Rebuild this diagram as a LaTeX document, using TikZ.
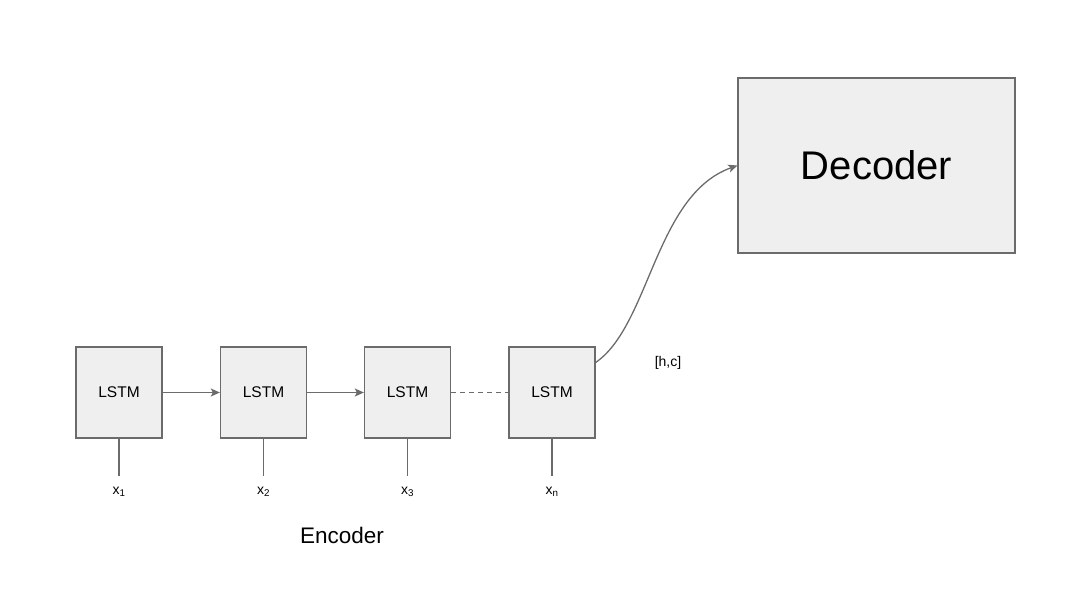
\documentclass[tikz,border=0pt]{standalone}
\usepackage{fontspec}
\setmainfont{Liberation Sans}
\usetikzlibrary{positioning, arrows.meta}
\definecolor{boxfill}{HTML}{EFEFEF}
\definecolor{boxline}{HTML}{6B6B6B}
\newcommand{\xin}[1]{x\textsubscript{#1}}

\begin{document}
\begin{tikzpicture}[
    % GLOBAL CFG
    x=1pt, y=-1pt,
    font=\fontsize{15.5}{18}\selectfont,
    >={Stealth[length=9pt,width=8pt,inset=2pt]},
    % Styles
    lstm/.style={% For encoder cells
        rectangle,
        draw=boxline,
        line width=1.3pt,
        fill=boxfill,
        minimum width=86pt,
        minimum height=91pt,
        inner sep=0pt,
    },
    decbox/.style={% For decoder box
        rectangle,
        draw=boxline,
        line width=1.3pt,
        fill=boxfill,
        minimum width=277pt,
        minimum height=175pt,
        font=\fontsize{40}{46}\selectfont,
    },
    xlabel/.style={% For inputs
        font=\fontsize{14}{16}\selectfont,
    },
    Arrow/.style={% For connectors
        draw=boxline,
        line width=1.3pt,
    },
    ]
    % Frame
    \useasboundingbox (0,0) rectangle (1066,590);

    % Draw encoder cells
    \node [lstm] (c1) at (119,392.5) {LSTM};
    \node [lstm] (c2) at (263.5,392.5) {LSTM};
    \node [lstm] (c3) at (407.5,392.5) {LSTM};
    \node [lstm] (c4) at (552,392.5) {LSTM};

    % Draw inputs
    \node [xlabel] (x1) at (119,492) {\xin{1}};
    \node [xlabel] (x2) at (263.5,492) {\xin{2}};
    \node [xlabel] (x3) at (407.5,492) {\xin{3}};
    \node [xlabel] (xn) at (552,492) {\xin{n}};

    % Draw decoder
    \node [decbox] (dec) at (876.5,165.5) {Decoder};

    % Labels
    \node (enc) at (342,535) {\fontsize{22.5}{26}\selectfont Encoder};
    \node [xlabel] (hc) at (668,363) {[h,c]};

    % Input lines
    \foreach \c/\x in {c1/x1, c2/x2, c3/x3, c4/xn}
        \draw [Arrow] (\c.south) -- ([yshift=8pt]\x.north);

    % Chain
    \draw [->,Arrow] (c1) -- (c2);
    \draw [->,Arrow] (c2) -- (c3);
    \draw [Arrow, dash pattern=on 5pt off 4pt] (c3) -- (c4);

    % State to decoder
    \draw [->,Arrow] ([yshift=30pt]c4.east) .. controls (650,325) and (655,195) .. (dec.west);

\end{tikzpicture}
\end{document}
